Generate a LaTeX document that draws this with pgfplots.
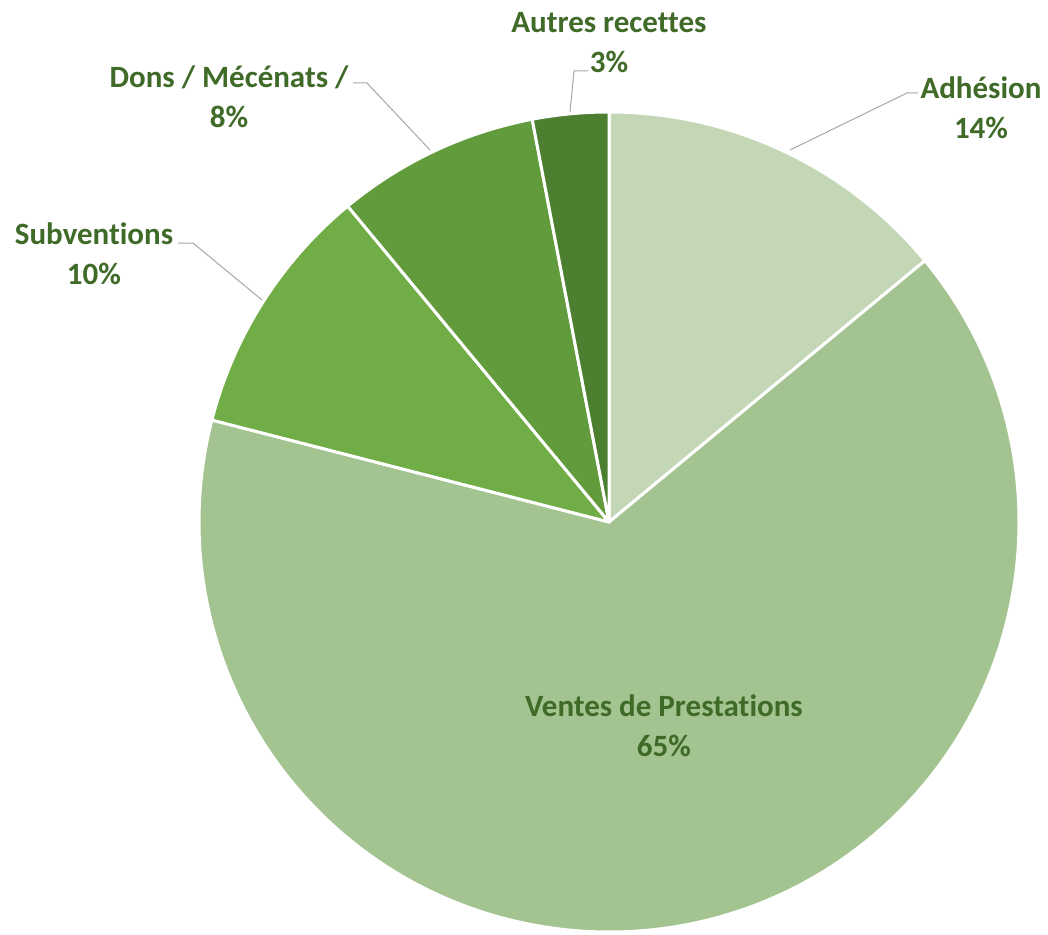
\documentclass[border=0pt]{standalone}
\usepackage{pgfplots}
\pgfplotsset{compat=1.18}
\usepackage{fontspec}
\setmainfont{Carlito}[Ligatures=NoCommon]

\definecolor{cAdh}{HTML}{C3D7B6}
\definecolor{cVen}{HTML}{A3C490}
\definecolor{cSub}{HTML}{70AD47}
\definecolor{cDon}{HTML}{629B3C}
\definecolor{cAut}{HTML}{4C7F2F}
\definecolor{txt}{HTML}{3F6A28}
\definecolor{lead}{HTML}{A6A6A6}

% parts in percent, clockwise from the top
\def\vAdh{14}
\def\vVen{65}
\def\vSub{10}
\def\vDon{8}
\def\vAut{3}

\pgfmathsetmacro\aA{90}
\pgfmathsetmacro\aB{\aA-3.6*\vAdh}
\pgfmathsetmacro\aC{\aB-3.6*\vVen}
\pgfmathsetmacro\aD{\aC-3.6*\vSub}
\pgfmathsetmacro\aE{\aD-3.6*\vDon}
\pgfmathsetmacro\aF{\aE-3.6*\vAut}

\def\R{205pt}

\begin{document}
\begin{tikzpicture}
\begin{axis}[
    x=0.5pt, y=0.5pt,
    xmin=0, xmax=1048, ymin=0, ymax=934,
    hide axis, clip=false,
]
\tikzset{slice/.style={draw=white, line width=1.5pt, line join=round}}
\fill[cAdh, slice] (axis cs:609,412) -- ++(\aA:\R) arc[start angle=\aA, end angle=\aB, radius=\R] -- cycle;
\fill[cVen, slice] (axis cs:609,412) -- ++(\aB:\R) arc[start angle=\aB, end angle=\aC, radius=\R] -- cycle;
\fill[cSub, slice] (axis cs:609,412) -- ++(\aC:\R) arc[start angle=\aC, end angle=\aD, radius=\R] -- cycle;
\fill[cDon, slice] (axis cs:609,412) -- ++(\aD:\R) arc[start angle=\aD, end angle=\aE, radius=\R] -- cycle;
\fill[cAut, slice] (axis cs:609,412) -- ++(\aE:\R) arc[start angle=\aE, end angle=\aF, radius=\R] -- cycle;

% leader lines
\draw[lead, line width=0.5pt] (axis cs:570,822) -- (axis cs:574,863) -- (axis cs:588,863);
\draw[lead, line width=0.5pt] (axis cs:790,784) -- (axis cs:907,841) -- (axis cs:918,841);
\draw[lead, line width=0.5pt] (axis cs:430,784) -- (axis cs:367,851) -- (axis cs:353,851);
\draw[lead, line width=0.5pt] (axis cs:262,634) -- (axis cs:193,691) -- (axis cs:178,691);

% labels
\tikzset{lab/.style={text=txt, font=\fontsize{15.5pt}{20pt}\selectfont\bfseries, align=center, inner sep=0pt}}
\node[lab] at (axis cs:609,891) {Autres recettes\\3\%};
\node[lab] at (axis cs:981,826) {Adhésion\\14\%};
\node[lab] at (axis cs:229,837) {Dons / Mécénats /\\8\%};
\node[lab] at (axis cs:94,680) {Subventions\\10\%};
\node[lab] at (axis cs:664,208) {Ventes de Prestations\\65\%};
\end{axis}
\pgfresetboundingbox
\useasboundingbox (0,0) rectangle (524pt,467pt);
\end{tikzpicture}
\end{document}
